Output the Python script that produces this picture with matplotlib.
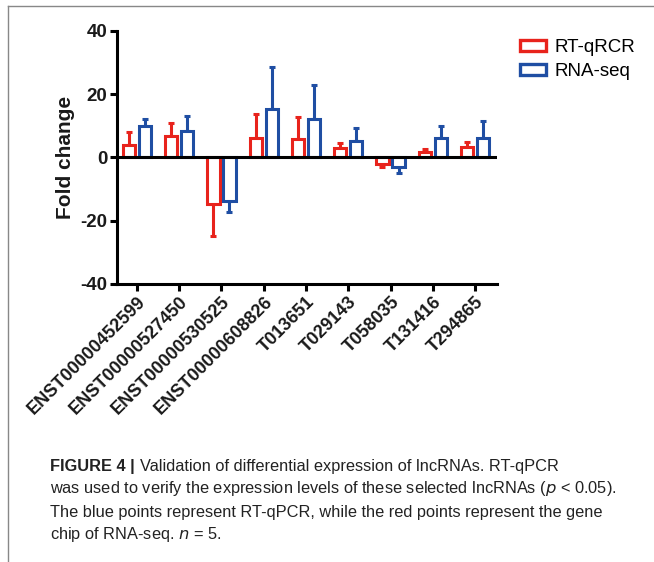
import numpy as np
import matplotlib.pyplot as plt
from matplotlib.lines import Line2D

plt.rcParams['font.family'] = ['Liberation Sans', 'DejaVu Sans']
plt.rcParams['axes.unicode_minus'] = False

# data
genes = ["ENST00000452599", "ENST00000527450", "ENST00000530525",
         "ENST00000608826", "T013651", "T029143", "T058035", "T131416", "T294865"]
qpcr = [4.0, 6.6, -14.7, 6.2, 5.9, 3.1, -2.1, 1.8, 3.2]
qpcr_err = [3.9, 4.3, 10.3, 7.5, 7.0, 1.5, 0.8, 1.0, 1.8]
seq = [9.8, 8.3, -13.8, 15.2, 12.0, 5.3, -3.0, 6.2, 6.1]
seq_err = [2.4, 4.8, 3.4, 13.3, 11.0, 4.0, 1.8, 3.7, 5.4]

red = "#e8231c"
blue = "#1f4ea3"

fig = plt.figure(figsize=(6.54, 5.62), dpi=100)
ax = fig.add_axes([0.179, 0.495, 0.581, 0.45])

x = np.arange(len(genes))
w = 0.29
off = 0.19
for vals, errs, col, dx in [(qpcr, qpcr_err, red, -off), (seq, seq_err, blue, off)]:
    ax.bar(x + dx, vals, width=w, facecolor="white", edgecolor=col, linewidth=2.2, zorder=2)
    # one-sided error bars (away from zero)
    lo = [0 if v > 0 else e for v, e in zip(vals, errs)]
    hi = [e if v > 0 else 0 for v, e in zip(vals, errs)]
    ax.errorbar(x + dx, vals, yerr=[lo, hi], fmt="none", ecolor=col,
                elinewidth=2.2, capsize=2.5, capthick=2.2, zorder=1)

ax.axhline(0, color="black", lw=2.2, zorder=3)
ax.set_xlim(-0.47, 8.52)
ax.set_ylim(-40, 40)
ax.set_yticks([-40, -20, 0, 20, 40])
ax.set_xticks(x)
ax.set_xticklabels(genes, rotation=45, ha="right", rotation_mode="anchor",
                   fontsize=13, fontweight="bold", color="#1a1a1a")
for lab in ax.get_yticklabels():
    lab.set_fontsize(13.5)
    lab.set_fontweight("bold")
    lab.set_color("#1a1a1a")
ax.set_ylabel("Fold change", fontsize=15, fontweight="bold", labelpad=4, color="#1a1a1a")
for s in ["top", "right"]:
    ax.spines[s].set_visible(False)
for s in ["left", "bottom"]:
    ax.spines[s].set_linewidth(2.2)
ax.tick_params(width=2.2, length=5, pad=2)

handles = [plt.Rectangle((0, 0), 1, 1, facecolor="white", edgecolor=red, lw=2.4),
           plt.Rectangle((0, 0), 1, 1, facecolor="white", edgecolor=blue, lw=2.4)]
fig.legend(handles, ["RT-qRCR", "RNA-seq"], loc="upper left",
           bbox_to_anchor=(0.79, 0.937), frameon=False, fontsize=13.5,
           handlelength=1.35, handleheight=0.5, handletextpad=0.45, labelspacing=0.38,
           borderpad=0.2, borderaxespad=0.0)

# frame lines (top and left)
fig.add_artist(Line2D([0.012, 1.0], [0.989, 0.989], color="#888888", lw=1))
fig.add_artist(Line2D([0.012, 0.012], [0.0, 0.989], color="#888888", lw=1))

# caption
y0 = 1 - 466 / 562
dy = 23 / 562
fs = 11.8
ck = dict(fontsize=fs, va="center", color="#222222")
t = fig.text(0.077, y0, "FIGURE 4 | ", fontweight="bold", **ck)
fig.canvas.draw()
bb = t.get_window_extent().transformed(fig.transFigure.inverted())
fig.text(bb.x1, y0, "Validation of differential expression of lncRNAs. RT-qPCR", **ck)
fig.text(0.077, y0 - dy,
         "was used to verify the expression levels of these selected lncRNAs ($p$ < 0.05).", **ck)
fig.text(0.077, y0 - 2 * dy,
         "The blue points represent RT-qPCR, while the red points represent the gene", **ck)
fig.text(0.077, y0 - 3 * dy, "chip of RNA-seq. $n$ = 5.", **ck)

fig.savefig("out.png", dpi=100)
